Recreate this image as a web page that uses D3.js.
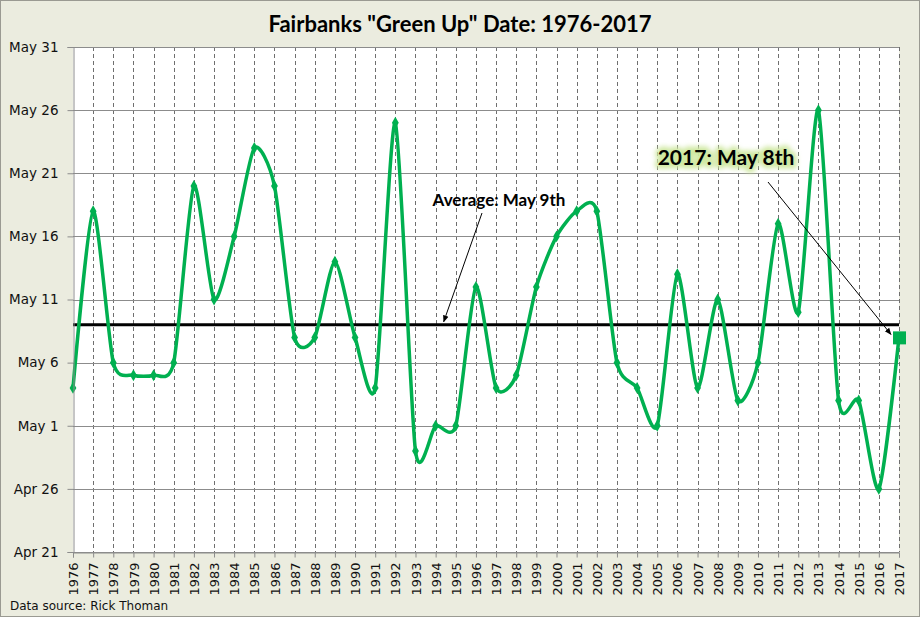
<meta charset="utf-8">
<head>
  <title>Fairbanks Green Up</title>
</head>
<style>
body { margin:0; background:#fff; }
text { font-family: "DejaVu Sans", Verdana, sans-serif; }
.ttl { font-family: Lato, "Open Sans", sans-serif; font-weight:bold; }
</style>
<body>
<div id="content"></div>
<script src="https://cdnjs.cloudflare.com/ajax/libs/d3/7.8.5/d3.min.js"></script>
<script>

const width = 920
const height = 617

// years and green-up day (day of May; 0 = Apr 30, negatives are April)
var years = d3.range(1976, 2018);
var greenUp = [4, 18, 6, 5, 5, 6, 20, 11, 16, 23, 20, 8, 8, 14, 8, 4, 25, -1, 1, 1,
               12, 4, 5, 12, 16, 18, 18, 6, 4, 1, 13, 4, 11, 3, 6, 17, 10, 26, 3, 3, -4, 8];
var average = 9;
var yTicks = [-9, -4, 1, 6, 11, 16, 21, 26, 31];
var yTickLabels = ["Apr 21", "Apr 26", "May 1", "May 6", "May 11", "May 16", "May 21", "May 26", "May 31"];

var margin = {left: 73, right: 21, top: 47, bottom: 65}

const svg = d3.select('#content')
    .append('svg')
      .attr('width', width)
      .attr('height', height)

svg.append('rect')
  .attr('x', 0.5).attr('y', 0.5)
  .attr('width', width - 1).attr('height', height - 1)
  .attr('fill', '#ebecdf')
  .attr('stroke', '#9a9a92')

var x = d3.scaleLinear()
  .domain([1976, 2017])
  .range([margin.left, width - margin.right])

var y = d3.scaleLinear()
  .domain([-9, 31])
  .range([height - margin.bottom, margin.top])

var g = svg.append('g')

g.append('rect')
  .attr('x', x(1976)).attr('y', y(31))
  .attr('width', x(2017) - x(1976)).attr('height', y(-9) - y(31))
  .attr('fill', '#fff')

// vertical dashed gridlines
g.selectAll('.vgrid')
  .data(years.slice(1))
  .enter().append('line')
  .attr('x1', function(d) { return Math.round(x(d)) + 0.5 })
  .attr('x2', function(d) { return Math.round(x(d)) + 0.5 })
  .attr('y1', y(31)).attr('y2', y(-9))
  .attr('stroke', '#6f6f6f')
  .attr('stroke-dasharray', '4,3')

// horizontal gridlines
g.selectAll('.hgrid')
  .data(yTicks)
  .enter().append('line')
  .attr('x1', x(1976)).attr('x2', x(2017))
  .attr('y1', function(d) { return Math.round(y(d)) + 0.5 })
  .attr('y2', function(d) { return Math.round(y(d)) + 0.5 })
  .attr('stroke', '#8c8c8c')

// y axis
var yAxis = d3.axisLeft(y)
  .tickValues(yTicks)
  .tickFormat(function(d, i) { return yTickLabels[i] })
  .tickSize(6)
  .tickPadding(9)

var ya = svg.append('g')
  .attr('transform', 'translate(' + (Math.round(x(1976)) + 0.5) + ',0)')
  .call(yAxis)
ya.select('.domain').attr('stroke', '#8c8c8c')
ya.selectAll('line').attr('stroke', '#8c8c8c')
ya.selectAll('text').attr('font-size', 13.5).attr('fill', '#111')
  .attr('font-family', 'DejaVu Sans')

// x axis
var xAxis = d3.axisBottom(x)
  .tickValues(years)
  .tickFormat(d3.format('d'))
  .tickSize(5)
  .tickPadding(4)

var xa = svg.append('g')
  .attr('transform', 'translate(0,' + (Math.round(y(-9)) + 0.5) + ')')
  .call(xAxis)
xa.select('.domain').attr('stroke', '#8c8c8c')
xa.selectAll('line').attr('stroke', '#8c8c8c')
xa.selectAll('text')
  .attr('font-size', 13).attr('fill', '#111')
  .attr('font-family', 'DejaVu Sans')
  .attr('transform', 'rotate(-90)')
  .attr('text-anchor', 'end')
  .attr('x', -10).attr('y', 0).attr('dy', '0.35em')

// average line
g.append('line')
  .attr('x1', x(1976)).attr('x2', x(2017))
  .attr('y1', y(average)).attr('y2', y(average))
  .attr('stroke', '#000')
  .attr('stroke-width', 3)

// smooth green line
var line = d3.line()
  .x(function(d, i) { return x(years[i]) })
  .y(function(d) { return y(d) })
  .curve(d3.curveCardinal.tension(0.3))

g.append('path')
  .datum(greenUp)
  .attr('d', line)
  .attr('fill', 'none')
  .attr('stroke', '#00b050')
  .attr('stroke-width', 3.5)

g.selectAll('.pt')
  .data(greenUp.slice(0, -1))
  .enter().append('path')
  .attr('d', d3.symbol().type(d3.symbolDiamond).size(40))
  .attr('transform', function(d, i) { return 'translate(' + x(years[i]) + ',' + y(d) + ')' })
  .attr('fill', '#00b050')

var last = greenUp.length - 1
g.append('rect')
  .attr('x', x(years[last]) - 6).attr('y', y(greenUp[last]) - 6)
  .attr('width', 13).attr('height', 13)
  .attr('fill', '#00b050')

// arrows
var defs = svg.append('defs')
defs.append('marker')
  .attr('id', 'arr')
  .attr('viewBox', '0 0 10 10')
  .attr('refX', 9).attr('refY', 5)
  .attr('markerWidth', 7).attr('markerHeight', 7)
  .attr('orient', 'auto')
  .append('path').attr('d', 'M0,1 L10,5 L0,9 z').attr('fill', '#000')

defs.append('filter').attr('id', 'blur')
  .attr('x', '-20%').attr('y', '-50%').attr('width', '140%').attr('height', '200%')
  .append('feGaussianBlur').attr('stdDeviation', 2.5)

g.append('line')
  .attr('x1', 482).attr('y1', 213)
  .attr('x2', x(1994.4)).attr('y2', y(average) - 3)
  .attr('stroke', '#000').attr('stroke-width', 1)
  .attr('marker-end', 'url(#arr)')

g.append('line')
  .attr('x1', 768).attr('y1', 182)
  .attr('x2', x(2016.6)).attr('y2', y(greenUp[last]) - 3)
  .attr('stroke', '#000').attr('stroke-width', 1)
  .attr('marker-end', 'url(#arr)')

svg.append('text')
  .attr('class', 'ttl')
  .attr('x', 499).attr('y', 206)
  .attr('text-anchor', 'middle')
  .attr('font-size', 17)
  .text('Average: May 9th')

// glow behind the 2017 label
svg.append('text')
  .attr('class', 'ttl')
  .attr('x', 726).attr('y', 165)
  .attr('text-anchor', 'middle')
  .attr('font-size', 21)
  .attr('fill', '#cfe8a0')
  .attr('stroke', '#cfe8a0')
  .attr('stroke-width', 7)
  .attr('stroke-linejoin', 'round')
  .attr('filter', 'url(#blur)')
  .text('2017: May 8th')

svg.append('text')
  .attr('class', 'ttl')
  .attr('x', 726).attr('y', 165)
  .attr('text-anchor', 'middle')
  .attr('font-size', 21)
  .attr('fill', '#000')
  .text('2017: May 8th')

svg.append('text')
  .attr('class', 'ttl')
  .attr('x', 460).attr('y', 32)
  .attr('text-anchor', 'middle')
  .attr('font-size', 22)
  .text('Fairbanks "Green Up" Date: 1976-2017')

svg.append('text')
  .attr('x', 10).attr('y', 610)
  .attr('font-family', 'Lato')
  .attr('font-size', 12)
  .attr('fill', '#111')
  .text('Data source: Rick Thoman')

</script>
</body>
